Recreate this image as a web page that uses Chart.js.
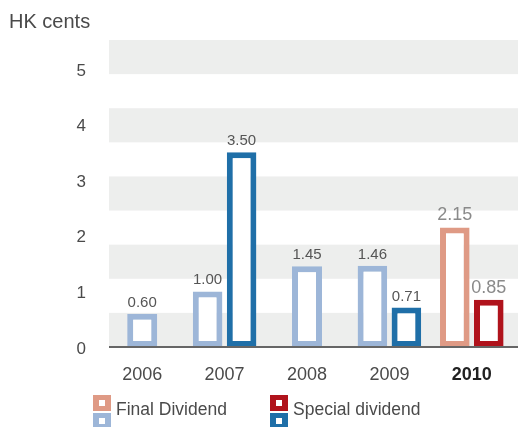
<!DOCTYPE html>
<html>
<head>
<meta charset="utf-8">
<style>
  html, body { margin: 0; padding: 0; background: #ffffff; }
  #wrap { width: 518px; height: 427px; position: relative; }
</style>
<script src="https://cdn.jsdelivr.net/npm/chart.js@4/dist/chart.umd.min.js"></script>
</head>
<body>
<div id="wrap"><canvas id="chart" width="518" height="427"></canvas></div>
<script>
// Dividend per share, HK cents
const years = ['2006', '2007', '2008', '2009', '2010'];
const finalDividend = [0.60, 1.00, 1.45, 1.46, 2.15];
const specialDividend = [null, 3.50, null, 0.71, 0.85];
const yTicks = [0, 1, 2, 3, 4, 5];
const seriesNames = ['Final Dividend', 'Special dividend'];
const unitLabel = 'HK cents';

// current year is highlighted with its own palette
const FINAL_PAST = '#9db6d8', FINAL_NOW = '#df9a85';
const SPECIAL_PAST = '#1f6fa8', SPECIAL_NOW = '#b0131c';
const FONT = '"Liberation Sans", Arial, Helvetica, sans-serif';
const TEXT = '#4a4a4a';
const lastIdx = years.length - 1;

const colorsFor = (past, now) => years.map((_, i) => i === lastIdx ? now : past);

// alternating horizontal bands behind the bars, plus the base line
const bandsPlugin = {
  id: 'bands',
  beforeDatasetsDraw(chart) {
    const { ctx, chartArea: a } = chart;
    const left = a.left + 8, right = chart.width;
    const n = 9, h = (a.bottom - a.top) / n;
    ctx.save();
    ctx.fillStyle = '#edeeed';
    for (let k = 0; k < n; k += 2) {
      const yb = a.bottom - k * h;
      ctx.fillRect(left, yb - h, right - left, h);
    }
    ctx.restore();
  },
  afterDatasetsDraw(chart) {
    const { ctx, chartArea: a } = chart;
    const y0 = chart.scales.y.getPixelForValue(0);
    ctx.save();
    ctx.fillStyle = '#666666';
    ctx.fillRect(a.left + 8, y0 - 1, chart.width - a.left - 8, 2);

    // value labels above each bar
    ctx.textAlign = 'center';
    ctx.textBaseline = 'alphabetic';
    chart.data.datasets.forEach((ds, di) => {
      chart.getDatasetMeta(di).data.forEach((bar, i) => {
        const v = ds.data[i];
        if (v === null || v === undefined) return;
        const now = i === lastIdx;
        ctx.font = (now ? '18px ' : '15px ') + FONT;
        ctx.fillStyle = now ? '#8a8a8a' : '#555555';
        ctx.fillText(v.toFixed(2), bar.x, bar.y - 7);
      });
    });
    ctx.restore();
  },
  afterDraw(chart) {
    const { ctx } = chart;
    ctx.save();
    // unit label
    ctx.font = '20px ' + FONT;
    ctx.fillStyle = TEXT;
    ctx.textAlign = 'left';
    ctx.textBaseline = 'alphabetic';
    ctx.fillText(unitLabel, 9, 28);

    // legend: each key shows current-year colour above past-year colour
    const keys = [
      { x: 93, top: FINAL_NOW, bottom: FINAL_PAST, label: seriesNames[0] },
      { x: 270, top: SPECIAL_NOW, bottom: SPECIAL_PAST, label: seriesNames[1] }
    ];
    keys.forEach(k => {
      const w = 18, h = 16;
      [[k.top, 395], [k.bottom, 413]].forEach(([c, y]) => {
        ctx.fillStyle = c;
        ctx.fillRect(k.x, y, w, h);
        ctx.fillStyle = '#ffffff';
        ctx.fillRect(k.x + 6, y + 5, 6, 6);
      });
      ctx.font = '17.5px ' + FONT;
      ctx.fillStyle = TEXT;
      ctx.textBaseline = 'middle';
      ctx.fillText(k.label, k.x + 23, 410);
    });
    ctx.restore();
  }
};

new Chart(document.getElementById('chart'), {
  type: 'bar',
  data: {
    labels: years,
    datasets: [
      {
        label: seriesNames[0],
        data: finalDividend,
        backgroundColor: '#ffffff',
        borderColor: colorsFor(FINAL_PAST, FINAL_NOW),
        borderWidth: 6,
        borderSkipped: false
      },
      {
        label: seriesNames[1],
        data: specialDividend,
        backgroundColor: '#ffffff',
        borderColor: colorsFor(SPECIAL_PAST, SPECIAL_NOW),
        borderWidth: 6,
        borderSkipped: false
      }
    ]
  },
  options: {
    responsive: false,
    animation: false,
    devicePixelRatio: 1,
    layout: { padding: { top: 40, right: 5, left: 0, bottom: 0 } },
    datasets: {
      bar: {
        skipNull: true,
        categoryPercentage: 0.825,
        barPercentage: 0.87,
        maxBarThickness: 30
      }
    },
    plugins: {
      legend: { display: false },
      tooltip: { enabled: false }
    },
    scales: {
      x: {
        grid: { display: false },
        border: { display: false },
        afterFit(scale) { scale.height = 80; },
        ticks: {
          padding: 9,
          color: ctx => ctx.index === lastIdx ? '#222222' : TEXT,
          font: ctx => ({
            family: FONT,
            size: 18,
            weight: ctx.index === lastIdx ? 'bold' : 'normal'
          })
        }
      },
      y: {
        min: 0,
        max: 5.52,
        grid: { display: false },
        border: { display: false },
        afterFit(scale) { scale.width = 101; },
        afterBuildTicks(scale) { scale.ticks = yTicks.map(v => ({ value: v })); },
        ticks: {
          padding: 7,
          labelOffset: 2,
          color: TEXT,
          font: { family: FONT, size: 17 },
          callback: v => String(v)
        }
      }
    }
  },
  plugins: [bandsPlugin]
});
</script>
</body>
</html>
